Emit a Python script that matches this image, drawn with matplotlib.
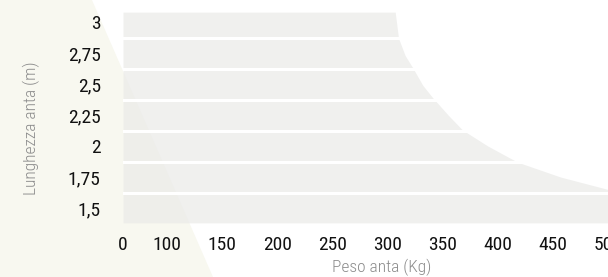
import matplotlib
matplotlib.use("Agg")
import matplotlib.pyplot as plt
from matplotlib.patches import Polygon

plt.rcParams['font.family'] = ['Roboto Condensed', 'DejaVu Sans']

# Lunghezza anta (m) -> limit of allowed weight (kg)
curve_length = [3.08, 2.87, 2.73, 2.63, 2.49, 2.39, 2.25, 2.13, 2.00, 1.87, 1.75, 1.65, 1.38]
curve_weight = [307, 310, 316, 323, 332, 341, 355, 368, 391, 418, 457, 500, 502]

length_ticks = [1.5, 1.75, 2, 2.25, 2.5, 2.75, 3]
length_labels = ["1,5", "1,75", "2", "2,25", "2,5", "2,75", "3"]
weight_ticks = [60, 100, 150, 200, 250, 300, 350, 400, 450, 500]
weight_labels = ["0", "100", "150", "200", "250", "300", "350", "400", "450", "500"]
band_edges = [1.625, 1.875, 2.125, 2.375, 2.625, 2.875]

W, H = 608, 277
fig = plt.figure(figsize=(W / 100, H / 100), dpi=100, facecolor="white")

# cream diagonal decoration in the background
fig.patches.append(Polygon([(0, 1), (92 / W, 1), (213 / W, 0), (0, 0)],
                           closed=True, transform=fig.transFigure,
                           facecolor="#f8f8f0", edgecolor="none", zorder=-5))

ax = fig.add_axes([123 / W, (H - 223) / H, 486 / W, 211 / H])
ax.set_facecolor("none")

ax.fill_betweenx(curve_length, 60, curve_weight, color="#eaeae8", alpha=0.71,
                 linewidth=0)
for e in band_edges:
    ax.axhline(e, color="white", lw=2.2)

ax.set_xlim(60, 501)
ax.set_ylim(1.379, 3.081)
ax.set_xticks(weight_ticks)
ax.set_xticklabels(weight_labels)
ax.set_yticks(length_ticks)
ax.set_yticklabels(length_labels)
ax.tick_params(length=0, labelsize=14, labelcolor="#111111")
ax.tick_params(axis="y", pad=16)
ax.tick_params(axis="x", pad=9)
for s in ax.spines.values():
    s.set_visible(False)

ax.set_ylabel("Lunghezza anta (m)", fontsize=12.5, color="#8c8c8c", fontweight="light")
ax.yaxis.set_label_coords(-0.17, 0.45)
ax.set_xlabel("Peso anta (Kg)", fontsize=12.5, color="#8c8c8c", fontweight="light")
ax.xaxis.set_label_coords(0.532, -0.17)

fig.savefig("out.png", dpi=100, facecolor="white")
